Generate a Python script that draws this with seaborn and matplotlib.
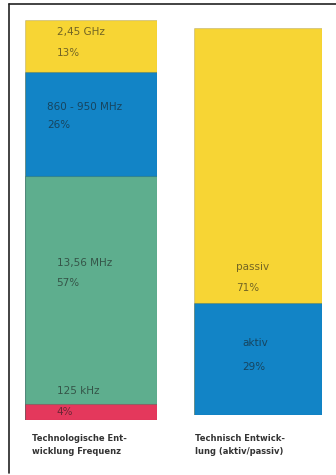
import matplotlib
matplotlib.use("Agg")
import matplotlib.pyplot as plt
from matplotlib.lines import Line2D
import seaborn as sns
import pandas as pd

sns.set_theme(style="white")
plt.rcParams['font.family'] = ['DejaVu Sans']

# Left bar: frequency shares (bottom to top)
freq_labels = ["125 kHz", "13,56 MHz", "860 - 950 MHz", "2,45 GHz"]
freq_values = [4, 57, 26, 13]
freq_colors = ["#E4385C", "#5EAE8E", "#1284C6", "#F7D534"]

# Right bar: active/passive shares (bottom to top)
tech_labels = ["aktiv", "passiv"]
tech_values = [29, 71]
tech_colors = ["#1284C6", "#F7D534"]

captions = ["Technologische Ent-\nwicklung Frequenz", "Technisch Entwick-\nlung (aktiv/passiv)"]

W, H = 336, 475
fig = plt.figure(figsize=(W / 100, H / 100), dpi=100)
fig.patch.set_facecolor("white")

def px_axes(x0, y0, x1, y1):
    return fig.add_axes([x0 / W, 1 - y1 / H, (x1 - x0) / W, (y1 - y0) / H])

def stacked(ax, labels, values, colors):
    df = pd.DataFrame({"label": labels, "value": values, "color": colors})
    df["top"] = df["value"].cumsum()
    # draw from the tallest cumulative bar down so smaller ones overlay
    for _, row in df.iloc[::-1].iterrows():
        sns.barplot(x=["bar"], y=[row["top"]], color=row["color"], width=1.0,
                    ax=ax, saturation=1, edgecolor="#00000022", linewidth=0.8)
    ax.set_xlim(-0.5, 0.5)
    ax.set_ylim(0, 100)
    ax.axis("off")
    return df

axL = px_axes(25, 20, 157, 420)
dfL = stacked(axL, freq_labels, freq_values, freq_colors)
axR = px_axes(194, 28, 322, 415)
dfR = stacked(axR, tech_labels, tech_values, tech_colors)

tkw = dict(fontsize=7.5, color="#1a1a1a", alpha=0.6, ha="left", va="center")
# left bar annotations
axL.text(-0.26, 97, "2,45 GHz", **tkw)
axL.text(-0.26, 91.8, f"{freq_values[3]}%", **tkw)
axL.text(-0.33, 78.3, "860 - 950 MHz", **tkw)
axL.text(-0.33, 73.8, f"{freq_values[2]}%", **tkw)
axL.text(-0.26, 39.3, "13,56 MHz", **tkw)
axL.text(-0.26, 34.3, f"{freq_values[1]}%", **tkw)
axL.text(-0.26, 7.3, "125 kHz", **tkw)
axL.text(-0.26, 2.0, f"{freq_values[0]}%", **tkw)
# right bar annotations
axR.text(-0.17, 38.2, "passiv", **tkw)
axR.text(-0.17, 32.8, f"{tech_values[1]}%", **tkw)
axR.text(-0.125, 18.6, "aktiv", **tkw)
axR.text(-0.125, 12.4, f"{tech_values[0]}%", **tkw)

# captions
fig.text(32 / W, 1 - 434 / H, captions[0], fontsize=6, fontweight="bold",
         color="#333333", ha="left", va="top", linespacing=1.5)
fig.text(195 / W, 1 - 434 / H, captions[1], fontsize=6, fontweight="bold",
         color="#333333", ha="left", va="top", linespacing=1.5)

# frame lines (top and left)
fig.add_artist(Line2D([9 / W, 1], [1 - 4 / H, 1 - 4 / H], color="#222222", lw=1.2))
fig.add_artist(Line2D([9 / W, 9 / W], [1 - 4 / H, 1 - 473 / H], color="#222222", lw=1.2))

fig.savefig("out.png", dpi=100, facecolor="white")
